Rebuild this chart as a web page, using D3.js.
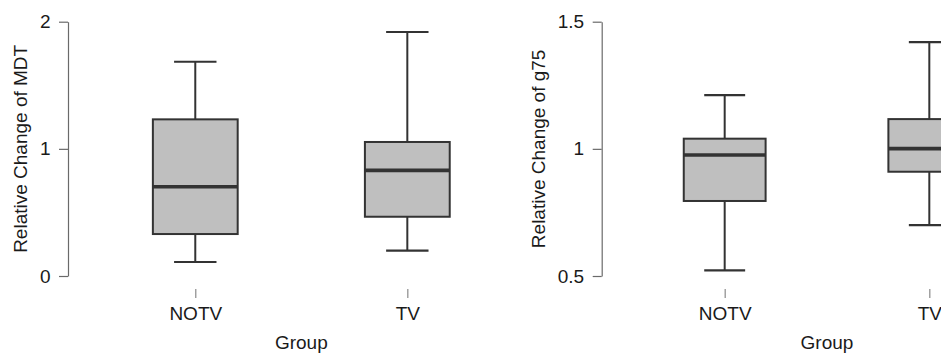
<!DOCTYPE html>
<html>
<head>
<meta charset="utf-8">
<script src="https://cdn.jsdelivr.net/npm/d3@7"></script>
<style>
  html, body { margin: 0; padding: 0; background: #fff; }
  svg { display: block; }
  text { font-family: "Liberation Sans", Arial, Helvetica, sans-serif; fill: #1a1a1a; }
</style>
</head>
<body>
<svg id="chart" width="941" height="354"></svg>
<script>
// ---- Data ----
const groups = ["NOTV", "TV"];

// Panel 1: Relative Change of MDT  [lowerWhisker, Q1, median, Q3, upperWhisker]
const mdtNOTV = [0.110, 0.330, 0.702, 1.232, 1.685];
const mdtTV   = [0.199, 0.466, 0.831, 1.054, 1.919];
const mdtTicks = [0, 1, 2];

// Panel 2: Relative Change of g75
const g75NOTV = [0.522, 0.795, 0.976, 1.040, 1.211];
const g75TV   = [0.700, 0.910, 1.001, 1.117, 1.420];
const g75Ticks = [0.5, 1, 1.5];

const xLabel = "Group";

// ---- Layout ----
const FS = 19;
const panels = [
  { title: "Relative Change of MDT", stats: [mdtNOTV, mdtTV], yDomain: [0, 2], ticks: mdtTicks,
    fmt: d3.format("d"), axisX: 68, plotL: 72.3, plotR: 530.3, titleX: 27, xTitleX: 301.3 },
  { title: "Relative Change of g75", stats: [g75NOTV, g75TV], yDomain: [0.5, 1.5], ticks: g75Ticks,
    fmt: d => (d === 1 ? "1" : d3.format(".1f")(d)), axisX: 601.7, plotL: 606, plotR: 1048, titleX: 545, xTitleX: 827 }
];

const yTop = 21.7, yBot = 276;
const svg = d3.select("#chart");

panels.forEach(p => {
  const g = svg.append("g");
  const x = d3.scaleLinear().domain([0.42, groups.length + 0.58]).range([p.plotL, p.plotR]);
  const y = d3.scaleLinear().domain(p.yDomain).range([yBot, yTop]);
  const step = x(2) - x(1);
  const boxW = step * 0.4;
  const capW = boxW * 0.5;

  // y axis
  const yAxis = d3.axisLeft(y).tickValues(p.ticks).tickFormat(p.fmt).tickSize(9).tickSizeOuter(0).tickPadding(8.5);
  const ya = g.append("g").attr("transform", `translate(${p.axisX},0)`).call(yAxis);
  ya.select(".domain").attr("stroke", "#6a6a6a").attr("stroke-width", 1.2);
  ya.selectAll(".tick line").attr("stroke", "#6a6a6a").attr("stroke-width", 1.2);
  ya.selectAll(".tick text").attr("font-size", FS).attr("fill", "#1a1a1a")
    .style("font-family", '"Liberation Sans", Arial, sans-serif');

  // x axis (ticks only)
  const xAxis = d3.axisBottom(x).tickValues(groups.map((d, i) => i + 1))
    .tickFormat((d) => groups[d - 1]).tickSize(9).tickSizeOuter(0).tickPadding(8);
  const xa = g.append("g").attr("transform", `translate(0,289)`).call(xAxis);
  xa.select(".domain").remove();
  xa.selectAll(".tick line").attr("stroke", "#8a8a8a").attr("stroke-width", 1.2);
  xa.selectAll(".tick text").attr("font-size", FS).attr("fill", "#1a1a1a").attr("dy", null)
    .attr("y", 30.5)
    .style("font-family", '"Liberation Sans", Arial, sans-serif');

  // boxes
  p.stats.forEach((s, i) => {
    const cx = x(i + 1);
    const [lo, q1, med, q3, hi] = s;
    const bg = g.append("g").attr("stroke", "#333333").attr("fill", "none");
    bg.append("line").attr("x1", cx).attr("x2", cx).attr("y1", y(hi)).attr("y2", y(q3)).attr("stroke-width", 2);
    bg.append("line").attr("x1", cx).attr("x2", cx).attr("y1", y(q1)).attr("y2", y(lo)).attr("stroke-width", 2);
    bg.append("line").attr("x1", cx - capW / 2).attr("x2", cx + capW / 2).attr("y1", y(hi)).attr("y2", y(hi)).attr("stroke-width", 2.2);
    bg.append("line").attr("x1", cx - capW / 2).attr("x2", cx + capW / 2).attr("y1", y(lo)).attr("y2", y(lo)).attr("stroke-width", 2.2);
    bg.append("rect").attr("x", cx - boxW / 2).attr("width", boxW)
      .attr("y", y(q3)).attr("height", y(q1) - y(q3))
      .attr("fill", "#bfbfbf").attr("stroke-width", 2);
    bg.append("line").attr("x1", cx - boxW / 2).attr("x2", cx + boxW / 2).attr("y1", y(med)).attr("y2", y(med))
      .attr("stroke-width", 3.6);
  });

  // axis titles
  g.append("text").attr("transform", `translate(${p.titleX},${(yTop + yBot) / 2}) rotate(-90)`)
    .attr("text-anchor", "middle").attr("font-size", FS).text(p.title);
  g.append("text").attr("x", p.xTitleX)
    .attr("y", 349).attr("text-anchor", "middle").attr("font-size", FS).text(xLabel);
});
</script>
</body>
</html>
